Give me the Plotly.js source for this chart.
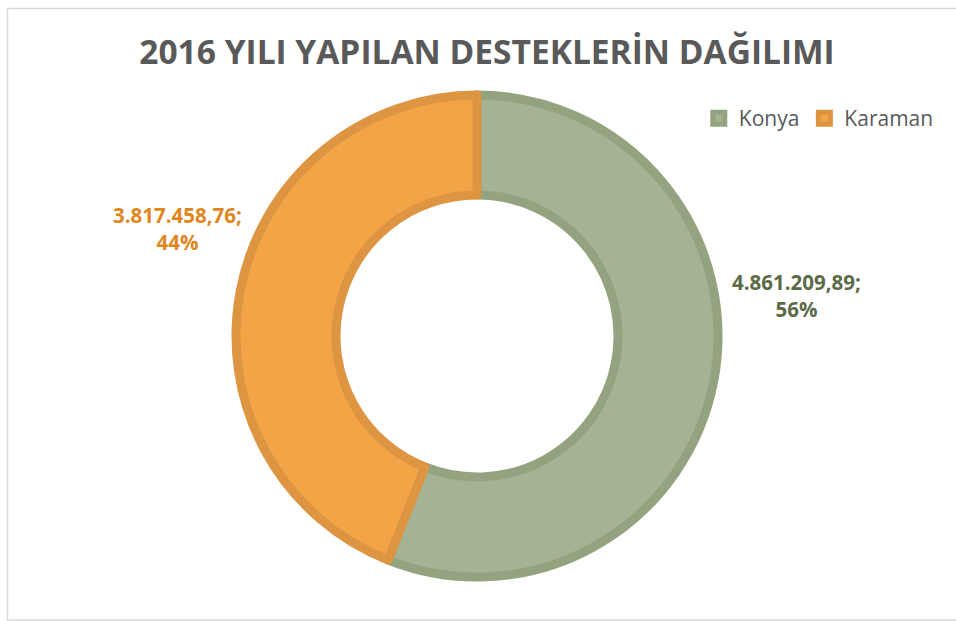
<!DOCTYPE html>
<html>
<head>
<meta charset="utf-8">
<script src="https://cdn.plot.ly/plotly-3.0.1.min.js"></script>
<style>html,body{margin:0;padding:0;background:#fff}#chart{width:956px;height:621px}</style>
</head>
<body>
<div id="chart"></div>
<script>
const chartTitle = "2016 YILI YAPILAN DESTEKLERİN DAĞILIMI";
const categories = ["Konya", "Karaman"];
const values = [4861209.89, 3817458.76];
const fillColors = ["#A3B394", "#F2A446"];
const lineColors = ["#94A37F", "#DE9541"];
const labelColors = ["#5B6B46", "#E0861D"];

function fmtTR(v) {
  const parts = v.toFixed(2).split(".");
  const intPart = parts[0].replace(/\B(?=(\d{3})+(?!\d))/g, ".");
  return intPart + "," + parts[1];
}
const total = values.reduce((a, b) => a + b, 0);
const labelTexts = values.map(v => fmtTR(v) + ";<br>" + Math.round(v / total * 100) + "%");

const W = 956, H = 621;
const cx = 477, cy = 336, R = 241;
const trace = {
  type: "pie",
  labels: categories,
  values: values,
  sort: false,
  direction: "clockwise",
  rotation: 0,
  hole: 0.585,
  textinfo: "none",
  hoverinfo: "label+value+percent",
  marker: { colors: fillColors, line: { color: lineColors, width: 9 } },
  domain: { x: [(cx - R) / W, (cx + R) / W], y: [(H - cy - R) / H, (H - cy + R) / H] }
};

const labelPos = [[796, 295], [177, 229]];
const annotations = labelTexts.map((t, i) => ({
  text: "<b>" + t + "</b>",
  x: labelPos[i][0] / W, y: 1 - labelPos[i][1] / H,
  xref: "paper", yref: "paper", showarrow: false,
  xanchor: "center", yanchor: "middle", align: "center",
  font: { family: "Open Sans, sans-serif", size: 20.5, color: labelColors[i] }
}));

const layout = {
  width: W, height: H,
  margin: { l: 0, r: 0, t: 0, b: 0 },
  paper_bgcolor: "#fff",
  title: {
    text: "<b>" + chartTitle + "</b>",
    font: { family: "Open Sans, sans-serif", size: 33.5, color: "#595959" },
    x: 487 / W, xanchor: "center", y: 1 - 52 / H, yanchor: "middle", yref: "container"
  },
  showlegend: true,
  legend: {
    orientation: "h", x: 0.982, xanchor: "right", y: 1 - 98 / H, yanchor: "top",
    font: { family: "Open Sans, sans-serif", size: 21, color: "#595959" },
    traceorder: "normal"
  },
  annotations: annotations,
  shapes: [{
    type: "rect", xref: "paper", yref: "paper",
    x0: 7.5 / W, x1: 1.01, y0: 1 - 620 / H, y1: 1 - 8.5 / H,
    line: { color: "#D9D9D9", width: 1.5 }, fillcolor: "rgba(0,0,0,0)", layer: "below"
  }]
};

Plotly.newPlot("chart", [trace], layout, { displayModeBar: false, staticPlot: true });
</script>
</body>
</html>
